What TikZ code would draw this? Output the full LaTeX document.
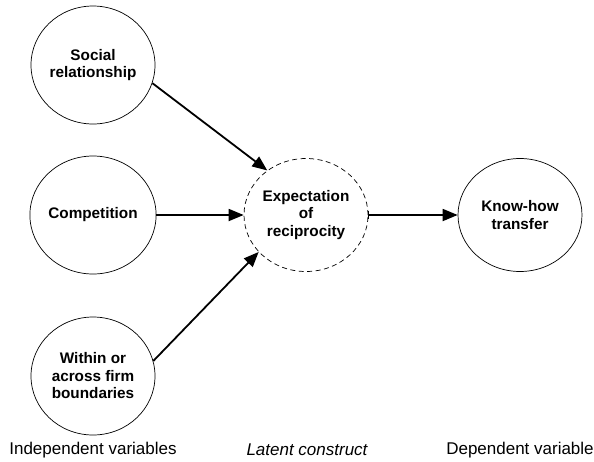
\documentclass[tikz,border=0pt]{standalone}
\usepackage{fontspec}
\setmainfont{Liberation Sans}
\usetikzlibrary{shapes.geometric,arrows.meta}
\begin{document}
\begin{tikzpicture}[x=1pt,y=-1pt,
  var/.style={ellipse,draw,line width=0.7pt,minimum width=124pt,minimum height=118pt,
    inner sep=0pt,align=center,font=\fontsize{15.3}{17.5}\selectfont\bfseries},
  latent/.style={var,dashed,dash pattern=on 5pt off 3.5pt,minimum height=113pt},
  outvar/.style={var,minimum height=113pt},
  tip/.style={-{Triangle[length=15pt,width=12pt]}},
  link/.style={line width=1.8pt,tip},
  caption/.style={font=\fontsize{17}{19}\selectfont}]
\useasboundingbox (0,0) rectangle (594,461);
\node[var] (soc) at (93,65) {Social\\relationship};
\node[var] (comp) at (93,215) {Competition};
\node[var] (firm) at (93,376) {Within or\\across firm\\boundaries};
\node[latent] (exp) at (306,215) {Expectation\\of\\reciprocity};
\node[outvar] (kh) at (520,215) {Know-how\\transfer};

\draw[link] (soc.-17) -- (exp.131);
\draw[link] (comp.east) -- (exp.west);
\draw[link] (firm.14) -- (exp.218);
\draw[line width=1.8pt,{Bar[width=8pt,line width=1pt]}-{Triangle[length=15pt,width=12pt]}] (exp.east) -- (kh.west);

\node[caption] (c1) at (93,450) {Independent variables};
\node[caption,font=\fontsize{17}{19}\selectfont\itshape] (c2) at (307,450) {Latent construct};
\node[caption] (c3) at (520,450) {Dependent variable};
\end{tikzpicture}
\end{document}
